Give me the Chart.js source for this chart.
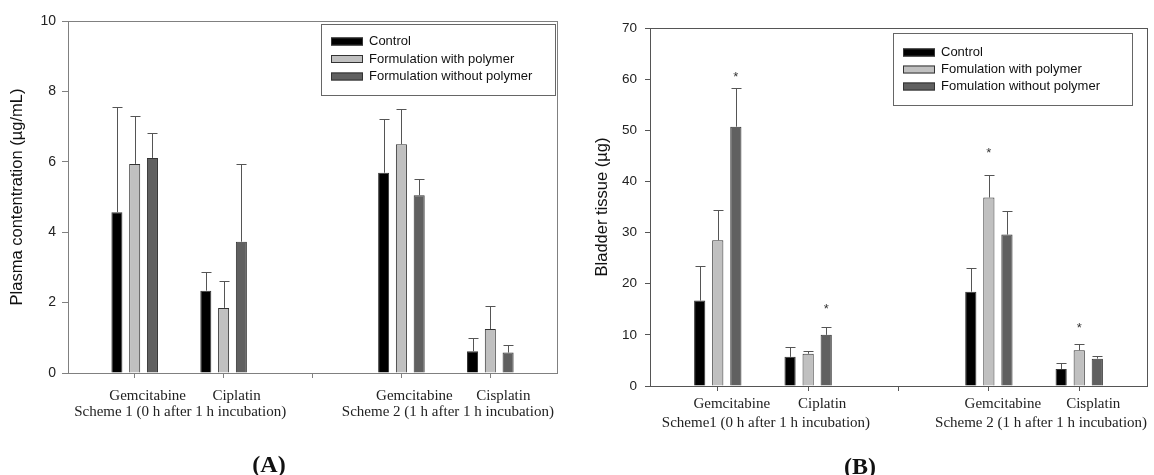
<!DOCTYPE html>
<html>
<head>
<meta charset="utf-8">
<script src="https://cdn.jsdelivr.net/npm/chart.js@4.4.1/dist/chart.umd.min.js"></script>
<style>
  body { margin: 0; background: #fff; }
  #wrap { position: relative; width: 1154px; height: 475px; overflow: hidden; }
  .panel { position: absolute; top: 0; width: 577px; height: 475px; }
  #panelA { left: 0; }
  #panelB { left: 577px; }
  .tag { position: absolute; font: bold 24px "Liberation Serif", serif; color: #111; transform: translate(-50%, -50%); }
</style>
</head>
<body>
<div id="wrap">
  <div class="panel" id="panelA"><canvas id="chartA" width="577" height="475"></canvas></div>
  <div class="panel" id="panelB"><canvas id="chartB" width="577" height="475"></canvas></div>
  <div class="tag" style="left:269px; top:464px">(A)</div>
  <div class="tag" style="left:860px; top:466px">(B)</div>
</div>
<script>
// categories along the x axis (index 2 is the empty gap between schemes)
const categories = ["Gemcitabine", "Ciplatin", "", "Gemcitabine", "Cisplatin"];
const categoriesB = ["Gemcitabine", "Ciplatin", "", "Gemcitabine", "Cisplatin"];
const schemesA = ["Scheme 1 (0 h after 1 h incubation)", "Scheme 2 (1 h after 1 h incubation)"];
const schemesB = ["Scheme1 (0 h after 1 h incubation)", "Scheme 2 (1 h after 1 h incubation)"];

const seriesA = ["Control", "Formulation with polymer", "Formulation without polymer"];
const seriesB = ["Control", "Fomulation with polymer", "Fomulation without polymer"];
const fills = ["#000000", "#c0c0c0", "#606060"];

const yTicksA = [0, 2, 4, 6, 8, 10];
const yTicksB = [0, 10, 20, 30, 40, 50, 60, 70];

// (A) plasma concentration, ug/mL
const controlA = [4.57, 2.34, null, 5.69, 0.62];
const withPolyA = [5.94, 1.85, null, 6.50, 1.25];
const withoutPolyA = [6.11, 3.73, null, 5.05, 0.58];
const controlErrA = [3.00, 0.54, null, 1.53, 0.38];
const withPolyErrA = [1.35, 0.77, null, 1.00, 0.65];
const withoutPolyErrA = [0.70, 2.21, null, 0.46, 0.22];

// (B) bladder tissue, ug
const controlB = [16.7, 5.7, null, 18.45, 3.33];
const withPolyB = [28.5, 6.3, null, 36.85, 6.98];
const withoutPolyB = [50.7, 10.0, null, 29.6, 5.35];
const controlErrB = [6.8, 2.0, null, 4.7, 1.1];
const withPolyErrB = [5.9, 0.6, null, 4.35, 1.2];
const withoutPolyErrB = [7.5, 1.5, null, 4.6, 0.45];

// significance marks in (B): series, category, height of the star
const starsB = [
  { series: 2, cat: 0, at: 61 },
  { series: 2, cat: 1, at: 15.5 },
  { series: 1, cat: 3, at: 46 },
  { series: 1, cat: 4, at: 11.8 }
];

function toPoints(values) {
  return values.map((v, i) => ({ x: i, y: v })).filter(p => p.y !== null);
}

function makeDatasets(names, values, errors) {
  return names.map((name, i) => ({
    label: name,
    data: toPoints(values[i]),
    errors: errors[i],
    backgroundColor: fills[i],
    borderColor: "#333",
    borderWidth: 1,
    categoryPercentage: 0.6,
    barPercentage: 0.62
  }));
}

// frame, error bars, stars, scheme labels and the legend box
const panelExtras = {
  id: "panelExtras",
  afterDatasetsDraw(chart, args, o) {
    const ctx = chart.ctx, a = chart.chartArea;
    const x = chart.scales.x, y = chart.scales.y;
    ctx.save();
    ctx.lineWidth = 1;

    ctx.strokeStyle = o.axisColor;
    ctx.strokeRect(Math.round(a.left) + 0.5, Math.round(a.top) + 0.5,
      Math.round(a.right) - Math.round(a.left), Math.round(a.bottom) - Math.round(a.top));

    ctx.strokeStyle = "#555";
    chart.data.datasets.forEach((ds, di) => {
      chart.getDatasetMeta(di).data.forEach((bar, j) => {
        const pt = ds.data[j];
        const top = Math.round(y.getPixelForValue(pt.y + ds.errors[pt.x])) + 0.5;
        const cx = Math.round(bar.x) + 0.5;
        ctx.beginPath();
        ctx.moveTo(cx, bar.y);
        ctx.lineTo(cx, top);
        ctx.moveTo(cx - 5, top);
        ctx.lineTo(cx + 5, top);
        ctx.stroke();
      });
    });

    ctx.fillStyle = "#333";
    ctx.font = "13px 'Liberation Sans', sans-serif";
    ctx.textAlign = "center";
    ctx.textBaseline = "middle";
    (o.stars || []).forEach(s => {
      const ds = chart.data.datasets[s.series];
      const j = ds.data.findIndex(p => p.x === s.cat);
      const bar = chart.getDatasetMeta(s.series).data[j];
      ctx.fillText("*", bar.x, y.getPixelForValue(s.at) + 3);
    });

    ctx.fillStyle = "#222";
    ctx.font = "15px 'Liberation Serif', serif";
    o.schemes.forEach((label, k) => {
      const cx = x.getPixelForValue(k * 3 + 0.5) + o.schemeShift[k];
      ctx.fillText(label, cx, a.bottom + o.schemeOffset);
    });

    const L = o.legend;
    ctx.strokeStyle = "#666";
    ctx.strokeRect(L.x + 0.5, L.y + 0.5, L.w, L.h);
    ctx.font = "13px 'Liberation Sans', sans-serif";
    ctx.textAlign = "left";
    chart.data.datasets.forEach((ds, i) => {
      const ry = L.rowY + i * L.rowGap;
      ctx.fillStyle = ds.backgroundColor;
      ctx.fillRect(L.swatchX, ry - 4, 32, 8);
      ctx.strokeStyle = "#333";
      ctx.strokeRect(L.swatchX + 0.5, ry - 3.5, 31, 7);
      ctx.fillStyle = "#111";
      ctx.fillText(ds.label, L.textX, ry);
    });
    ctx.restore();
  }
};

function makeChart(id, cfg) {
  return new Chart(document.getElementById(id), {
    type: "bar",
    data: { datasets: makeDatasets(cfg.names, cfg.values, cfg.errors) },
    plugins: [panelExtras],
    options: {
      responsive: false,
      animation: false,
      layout: { padding: cfg.padding },
      plugins: {
        legend: { display: false },
        tooltip: { enabled: false },
        panelExtras: {
          axisColor: cfg.axisColor,
          schemes: cfg.schemes,
          schemeOffset: cfg.schemeOffset,
          schemeShift: cfg.schemeShift,
          legend: cfg.legend,
          stars: cfg.stars
        }
      },
      scales: {
        x: {
          type: "linear",
          min: -0.75,
          max: 4.75,
          offset: false,
          afterBuildTicks: s => { s.ticks = cfg.cats.map((_, i) => ({ value: i })); },
          afterFit: s => { s.height = cfg.xHeight; },
          ticks: {
            callback: v => cfg.cats[v],
            autoSkip: false,
            maxRotation: 0,
            padding: cfg.xPad,
            labelOffset: cfg.labelShift,
            color: "#222",
            font: { family: "'Liberation Serif', serif", size: 15 }
          },
          grid: { offset: false, drawOnChartArea: false, tickLength: 5, color: cfg.axisColor },
          border: { color: cfg.axisColor }
        },
        y: {
          min: cfg.yTicks[0],
          max: cfg.yTicks[cfg.yTicks.length - 1],
          afterBuildTicks: s => { s.ticks = cfg.yTicks.map(v => ({ value: v })); },
          afterFit: s => { s.width = cfg.yWidth; },
          ticks: {
            padding: cfg.yPad,
            color: "#222",
            font: { family: "'Liberation Sans', sans-serif", size: cfg.yFont }
          },
          grid: { drawOnChartArea: false, tickLength: cfg.yTick, color: cfg.axisColor },
          border: { color: cfg.axisColor },
          title: {
            display: true,
            text: cfg.yTitle,
            color: "#111",
            padding: { top: cfg.titlePad, bottom: 0 },
            font: { family: "'Liberation Sans', sans-serif", size: 16.5 }
          }
        }
      }
    }
  });
}

makeChart("chartA", {
  names: seriesA,
  values: [controlA, withPolyA, withoutPolyA],
  errors: [controlErrA, withPolyErrA, withoutPolyErrA],
  cats: categories,
  schemes: schemesA,
  yTicks: yTicksA,
  yTitle: "Plasma contentration (\u00b5g/mL)",
  axisColor: "#808080",
  padding: { left: 0, top: 21, right: 20, bottom: 0 },
  xHeight: 102, xPad: 9, schemeOffset: 39, labelShift: 13, schemeShift: [1, 2],
  yWidth: 68, yPad: 6, yTick: 6, yFont: 14, titlePad: 8,
  legend: { x: 321, y: 24, w: 234, h: 71, rowY: 41.5, rowGap: 17.5, swatchX: 331, textX: 369 },
  stars: []
});

makeChart("chartB", {
  names: seriesB,
  values: [controlB, withPolyB, withoutPolyB],
  errors: [controlErrB, withPolyErrB, withoutPolyErrB],
  cats: categoriesB,
  schemes: schemesB,
  yTicks: yTicksB,
  yTitle: "Bladder tissue (\u00b5g)",
  axisColor: "#555555",
  padding: { left: 0, top: 28, right: 7, bottom: 0 },
  xHeight: 89, xPad: 4, schemeOffset: 37, labelShift: 14, schemeShift: [3, 7],
  yWidth: 73, yPad: 8, yTick: 5, yFont: 13.5, titlePad: 16,
  legend: { x: 316, y: 33, w: 239, h: 72, rowY: 52.5, rowGap: 17, swatchX: 326, textX: 364 },
  stars: starsB
});
</script>
</body>
</html>
